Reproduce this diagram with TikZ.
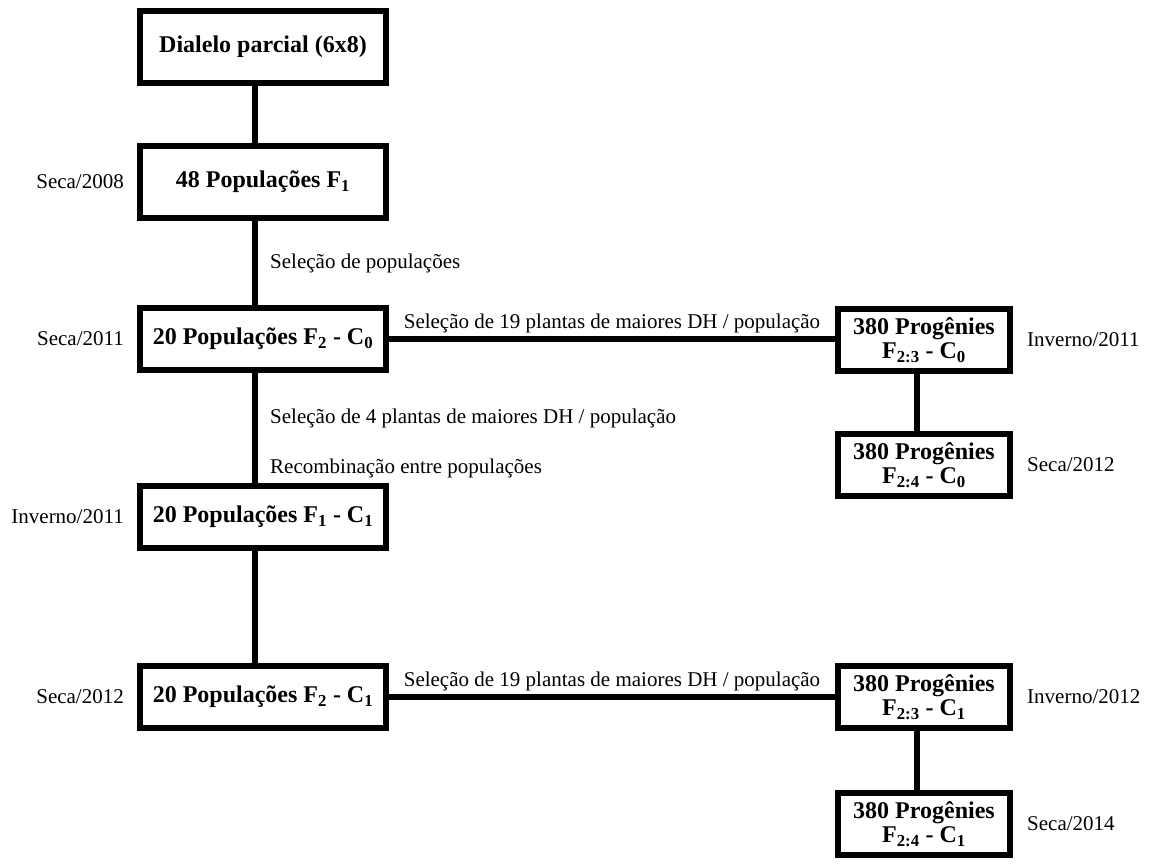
\documentclass[tikz,border=0pt]{standalone}
\usepackage{fontspec}
\setmainfont{Liberation Serif}
\usetikzlibrary{positioning}

\tikzset{
  stage/.style={draw, line width=6pt, minimum width=246pt, minimum height=62pt,
    inner sep=0pt, align=center, font=\bfseries\fontsize{24}{24}\selectfont},
  prog/.style={stage, minimum width=172pt},
  caption/.style={inner sep=0pt, font=\fontsize{21}{25}\selectfont},
  link/.style={line width=6pt}
}

\begin{document}
\begin{tikzpicture}[x=1pt,y=-1pt]
    \useasboundingbox (0,0) rectangle (1154,865);
    \coordinate (spine) at (255,0);
    \coordinate (rspine) at (917,0);
    % main column
    \node[stage, minimum height=72pt] (dialelo) at (263,47) {Dialelo parcial (6x8)};
    \node[stage, minimum height=72pt] (popF1) at (263,182) {48 Populações F\textsubscript{1}};
    \node[stage] (popC0) at (263,339) {20 Populações F\textsubscript{2} - C\textsubscript{0}};
    \node[stage] (recC1) at (263,517) {20 Populações F\textsubscript{1} - C\textsubscript{1}};
    \node[stage] (popC1) at (263,697) {20 Populações F\textsubscript{2} - C\textsubscript{1}};
    % progenies
    \node[prog] (progA) at (924,340) {380 Progênies\\F\textsubscript{2:3} - C\textsubscript{0}};
    \node[prog] (progB) at (924,465) {380 Progênies\\F\textsubscript{2:4} - C\textsubscript{0}};
    \node[prog] (progC) at (924,697) {380 Progênies\\F\textsubscript{2:3} - C\textsubscript{1}};
    \node[prog] (progD) at (924,824) {380 Progênies\\F\textsubscript{2:4} - C\textsubscript{1}};
    % seasons
    \node[caption, left=13pt of popF1] (sF1) {Seca/2008};
    \node[caption, left=13pt of popC0] (sC0) {Seca/2011};
    \node[caption, left=13pt of recC1] (sR1) {Inverno/2011};
    \node[caption, left=13pt of popC1] (sC1) {Seca/2012};
    \node[caption, right=14pt of progA] (sA) {Inverno/2011};
    \node[caption, right=14pt of progB] (sB) {Seca/2012};
    \node[caption, right=14pt of progC] (sC) {Inverno/2012};
    \node[caption, right=14pt of progD] (sD) {Seca/2014};
    % notes on the spine
    \node[caption, anchor=west] (selpop) at (270,263) {Seleção de populações};
    \node[caption, anchor=west] (selfour) at (270,418) {Seleção de 4 plantas de maiores DH / população};
    \node[caption, anchor=west] (recomb) at (270,468) {Recombinação entre populações};

    \draw[link] (dialelo.south -| spine) -- (popF1.north -| spine);
    \draw[link] (popF1.south -| spine) -- (popC0.north -| spine);
    \draw[link] (popC0.south -| spine) -- (recC1.north -| spine);
    \draw[link] (recC1.south -| spine) -- (popC1.north -| spine);
    \draw[link] (progA.south -| rspine) -- (progB.north -| rspine);
    \draw[link] (progC.south -| rspine) -- (progD.north -| rspine);
    \draw[link] (popC0.east) -- (popC0.east -| progA.west)
        node[caption, midway, above=3pt] {Seleção de 19 plantas de maiores DH / população};
    \draw[link] (popC1.east) -- (popC1.east -| progC.west)
        node[caption, midway, above=3pt] {Seleção de 19 plantas de maiores DH / população};
\end{tikzpicture}
\end{document}
